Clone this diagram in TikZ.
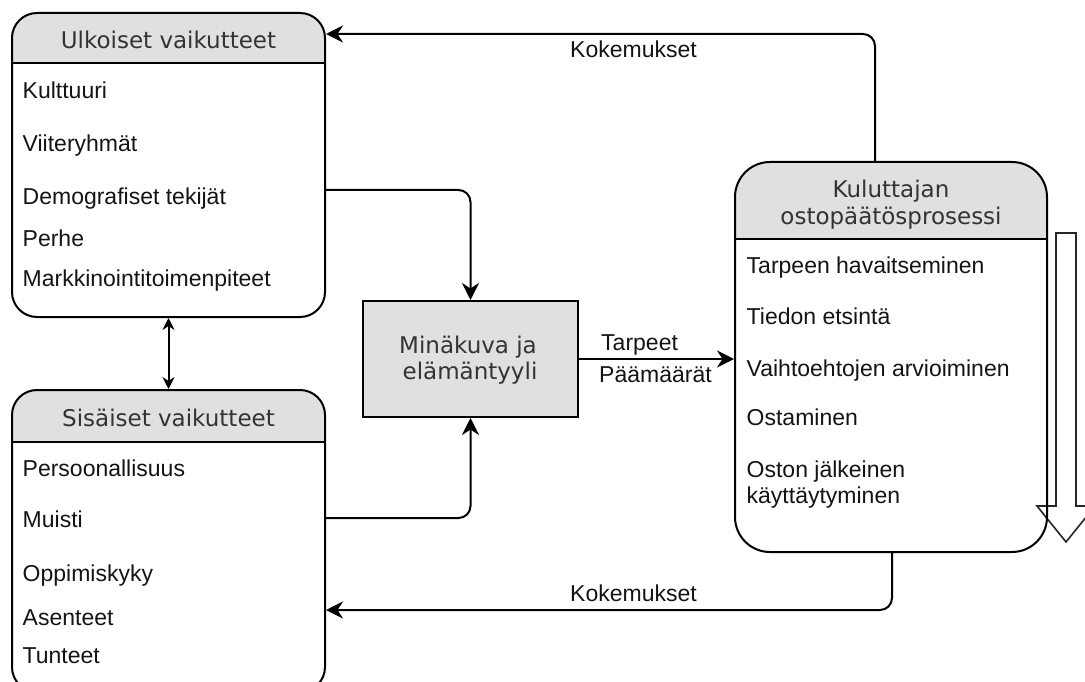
\documentclass[tikz,border=0pt]{standalone}
\usepackage{fontspec}
\setmainfont{Liberation Sans}
\newfontfamily\hdrfont{DejaVu Sans}
\usetikzlibrary{arrows.meta}
\definecolor{hdrgray}{HTML}{E0E0E0}
\definecolor{hdrtext}{HTML}{333333}

\begin{document}
\begin{tikzpicture}[x=1pt,y=-1pt,
  panel/.style={draw=black, line width=2pt, rounded corners=#1, inner sep=0pt},
  header/.style={path picture={
      \fill[hdrgray, sharp corners] (path picture bounding box.north west)
        rectangle ([yshift=-#1]path picture bounding box.north east);
      \draw[line width=2pt, sharp corners] ([yshift=-#1]path picture bounding box.north west)
        -- ([yshift=-#1]path picture bounding box.north east);}},
  hdr/.style={font=\hdrfont\fontsize{23}{27}\selectfont, text=hdrtext,
      inner sep=0pt, text height=16.8pt, text depth=0pt},
  lbl/.style={font=\fontsize{23}{27}\selectfont, text=black!92,
      inner sep=0pt, text height=16.5pt, text depth=0pt},
  item/.style={lbl, anchor=west},
  arrowhd/.tip={Stealth[length=17pt, width=17pt, inset=5.5pt]},
  smallhd/.tip={Stealth[length=12pt, width=12pt, inset=4pt]},
  conn/.style={draw=black, line width=2pt, -{arrowhd}, rounded corners=12pt},
]
\clip (0,0) rectangle (1085,682);

% downward block arrow beside the process panel
\draw[line width=1.6pt, draw=black!85, fill=white]
  (1056,233) -- (1076,233) -- (1076,506) -- (1095,506) -- (1066,542)
  -- (1037,506) -- (1056,506) -- cycle;

% panels
\node[panel=25pt, header=50pt, minimum width=313pt, minimum height=304pt] (ulk) at (168.5,165) {};
\node[panel=25pt, header=52pt, minimum width=313pt, minimum height=302pt] (sis) at (168.5,541) {};
\node[panel=35pt, header=77pt, minimum width=312pt, minimum height=390pt] (proc) at (891,357) {};
\node[draw=black, line width=2pt, fill=hdrgray, minimum width=215pt, minimum height=116pt] (mid) at (470.5,359) {};

% panel titles
\node[hdr] (ulkT) at (168.5,40.5) {Ulkoiset vaikutteet};
\node[hdr] (sisT) at (168.5,418.5) {Sisäiset vaikutteet};
\node[hdr] (procT1) at (891,189.5) {Kuluttajan};
\node[hdr] (procT2) at (891,216) {ostopäätösprosessi};
\node[hdr] (midT1) at (468,345) {Minäkuva ja};
\node[hdr] (midT2) at (470,371.5) {elämäntyyli};

% external influences
\node[item] (u1) at (22.5,90.5) {Kulttuuri};
\node[item] (u2) at (22.5,143) {Viiteryhmät};
\node[item] (u3) at (22.5,196.5) {Demografiset tekijät};
\node[item] (u4) at (22.5,238.5) {Perhe};
\node[item] (u5) at (22.5,278.5) {Markkinointitoimenpiteet};

% internal influences
\node[item] (s1) at (22.5,468) {Persoonallisuus};
\node[item] (s2) at (22.5,519) {Muisti};
\node[item] (s3) at (22.5,573) {Oppimiskyky};
\node[item] (s4) at (22.5,617) {Asenteet};
\node[item] (s5) at (22.5,655) {Tunteet};

% decision process stages
\node[item] (p1) at (746.5,265.5) {Tarpeen havaitseminen};
\node[item] (p2) at (746.5,316.5) {Tiedon etsintä};
\node[item] (p3) at (746.5,368) {Vaihtoehtojen arvioiminen};
\node[item] (p4) at (746.5,417.5) {Ostaminen};
\node[item] (p5) at (746.5,469.5) {Oston jälkeinen};
\node[item] (p6) at (746.5,495.5) {käyttäytyminen};

% connectors
\draw[conn] ([yshift=-25pt]ulk.east) -| (mid.north);
\draw[conn] ([yshift=23pt]sis.east) -| (mid.south);
\draw[conn] (mid.east) -- (mid.east -| proc.west);
\node[item] (tarp) at (601,342) {Tarpeet};
\node[item] (paam) at (599,374) {Päämäärät};

\draw[conn] ([xshift=-16pt]proc.north) |- ([yshift=-22pt]ulk.north east);
\node[lbl] (kok1) at (633.5,49) {Kokemukset};
\draw[conn] ([xshift=1pt]proc.south) |- ([yshift=-69pt]sis.east);
\node[lbl] (kok2) at (633.5,593) {Kokemukset};

\draw[line width=2pt, {smallhd}-{smallhd}] (ulk.south) -- (sis.north);
\end{tikzpicture}
\end{document}
